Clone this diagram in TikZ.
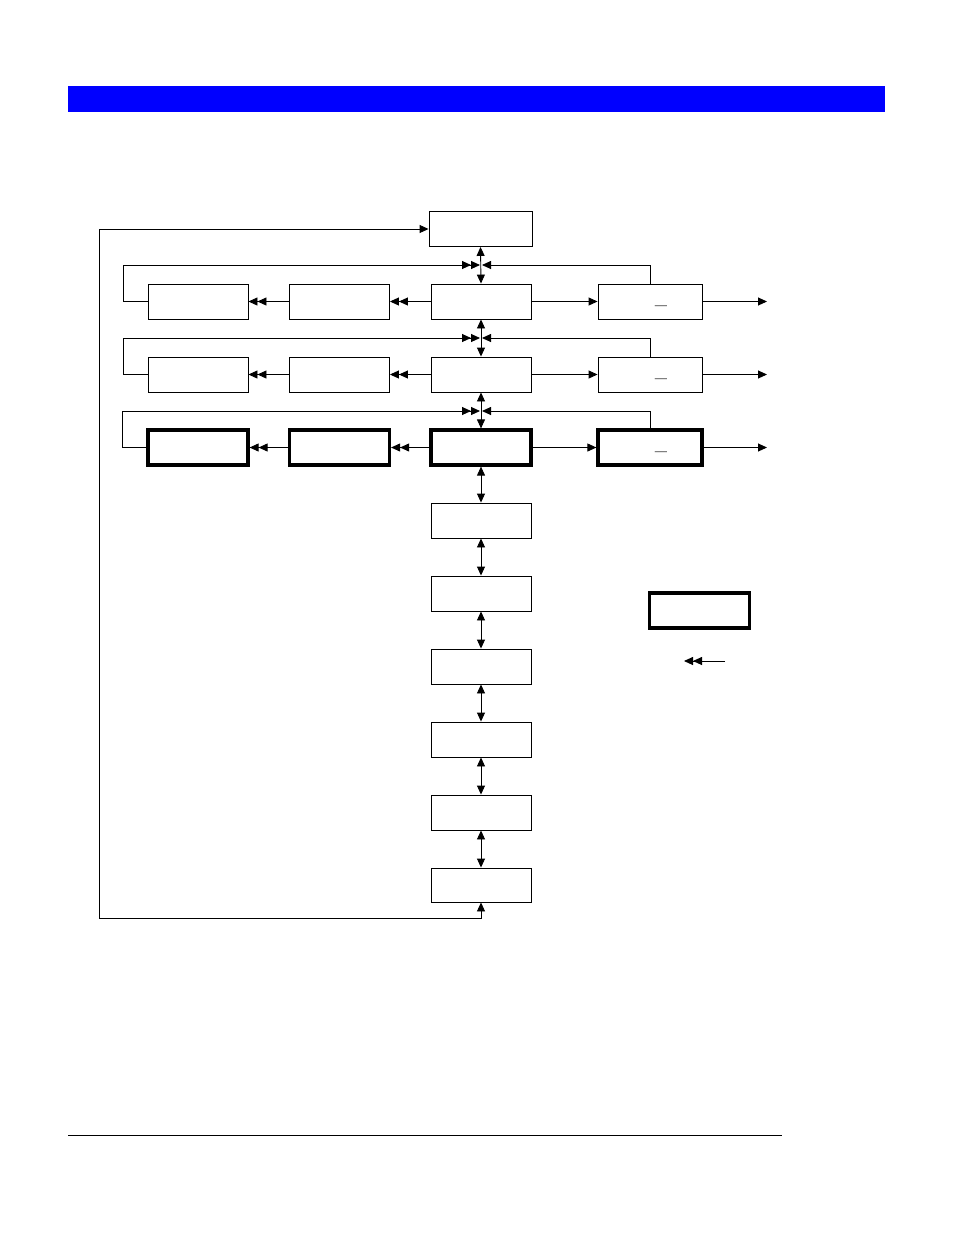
\documentclass[tikz,border=0pt]{standalone}
\usetikzlibrary{arrows.meta}
\begin{document}
\begin{tikzpicture}[x=1pt,y=-1pt,line width=0.9pt,
  bx/.style={draw,minimum width=100pt,minimum height=35pt,inner sep=0pt},
  tbx/.style={bx,line width=3.2pt},
  tip/.style={-{Triangle[length=9pt,width=8pt]}},
  btip/.style={{Triangle[length=9pt,width=8pt]}-{Triangle[length=9pt,width=8pt]}},
  dtip/.style={-{Triangle[length=9pt,width=8pt]Triangle[length=9pt,width=8pt]}}]
\useasboundingbox (0,0) rectangle (954,1235);
\fill[blue] (68,86) rectangle (885,112);
\draw (68,1135) -- (782,1135);
\node[bx,minimum width=103pt] (top) at (480.5,229) {};
\foreach \r/\y/\s in {1/301.5/bx,2/374.5/bx,3/447.5/tbx}{
  \node[\s] (a\r) at (198,\y) {};
  \node[\s] (b\r) at (339.5,\y) {};
  \node[\s] (c\r) at (481,\y) {};
  \node[\s,minimum width=104pt] (d\r) at (650,\y) {};
  \node[inner sep=0pt,font=\Large\bfseries] at (661,\y+4) {\_};
  \coordinate (o\r) at (767,\y);
  \draw[dtip] (c\r.west) -- (b\r.east);
  \draw[dtip] (b\r.west) -- (a\r.east);
  \draw[tip] (c\r.east) -- (d\r.west);
  \draw[tip] (d\r.east) -- (o\r);
}
\coordinate (j1) at (481,265);
\coordinate (j2) at (481,338);
\coordinate (j3) at (481,411);
\draw[btip] (top.south) -- (c1.north);
\draw[btip] (c1.south) -- (c2.north);
\draw[btip] (c2.south) -- (c3.north);
\foreach \r in {1,2,3}{
  \draw[dtip] (a\r.west) -- ++(-24,0) |- ([xshift=-1pt]j\r);
  \draw[tip] (d\r.north) |- ([xshift=1pt]j\r);
}
\node[bx] (e1) at (481,520.5) {};
\node[bx] (e2) at (481,593.5) {};
\node[bx] (e3) at (481,666.5) {};
\node[bx] (e4) at (481,739.5) {};
\node[bx] (e5) at (481,812.5) {};
\node[bx,minimum height=34pt] (e6) at (481,885) {};
\draw[btip] (c3.south) -- (e1.north);
\foreach \i/\j in {1/2,2/3,3/4,4/5,5/6} \draw[btip] (e\i.south) -- (e\j.north);
\draw[btip] (top.west) -| (99,918) -| (e6.south);
\node[tbx] (leg) at (699.5,610.5) {};
\coordinate (l1) at (725,661);
\coordinate (l2) at (684,661);
\draw[dtip] (l1) -- (l2);
\end{tikzpicture}
\end{document}
